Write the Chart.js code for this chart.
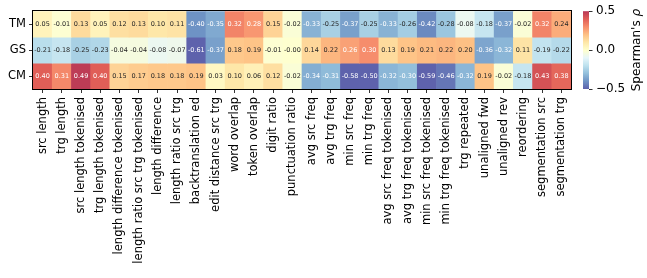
<!DOCTYPE html>
<html>
<head>
<meta charset="utf-8">
<script src="https://cdn.jsdelivr.net/npm/chart.js@4"></script>
<style>
html,body{margin:0;padding:0;background:#fff;}
#wrap{width:647px;height:278px;}
</style>
</head>
<body>
<div id="wrap"><canvas id="c" width="647" height="278"></canvas></div>
<script>
const features = ['src length','trg length','src length tokenised','trg length tokenised',
  'length difference tokenised','length ratio src trg tokenised','length difference',
  'length ratio src trg','backtranslation ed','edit distance src trg','word overlap',
  'token overlap','digit ratio','punctuation ratio','avg src freq','avg trg freq',
  'min src freq','min trg freq','avg src freq tokenised','avg trg freq tokenised',
  'min src freq tokenised','min trg freq tokenised','trg repeated','unaligned fwd',
  'unaligned rev','reordering','segmentation src','segmentation trg'];
const rows = ['TM','GS','CM'];
const tmValues = [0.05,-0.01,0.13,0.05,0.12,0.13,0.10,0.11,-0.40,-0.35,0.32,0.28,0.15,-0.02,
  -0.33,-0.25,-0.37,-0.25,-0.33,-0.26,-0.42,-0.28,-0.08,-0.18,-0.37,-0.02,0.32,0.24];
const gsValues = [-0.21,-0.18,-0.25,-0.23,-0.04,-0.04,-0.08,-0.07,-0.61,-0.37,0.18,0.19,-0.01,-0.004,
  0.14,0.22,0.26,0.30,0.13,0.19,0.21,0.22,0.20,-0.36,-0.32,0.11,-0.19,-0.22];
const cmValues = [0.40,0.31,0.49,0.40,0.15,0.17,0.18,0.18,0.19,0.03,0.10,0.06,0.12,-0.02,
  -0.34,-0.31,-0.58,-0.50,-0.32,-0.30,-0.59,-0.46,-0.32,0.19,-0.02,-0.18,0.43,0.38];
const colorbarTicks = [-0.5, 0, 0.5];
const vmin = -0.5, vmax = 0.5;
const seriesValues = [tmValues, gsValues, cmValues];

const cmapStops = ['#313695','#4575b4','#74add1','#abd9e9','#e0f3f8','#ffffbf','#fee090','#fdae61','#f46d43','#d73027','#a50026'];
const ALPHA = 0.78;
function hex2rgb(h){return [parseInt(h.slice(1,3),16),parseInt(h.slice(3,5),16),parseInt(h.slice(5,7),16)];}
const stopsRGB = cmapStops.map(hex2rgb);
function cmapRGB(t){
  t = Math.max(0, Math.min(1, t));
  const p = t*(stopsRGB.length-1);
  const i = Math.min(Math.floor(p), stopsRGB.length-2);
  const f = p - i;
  const a = stopsRGB[i], b = stopsRGB[i+1];
  return [0,1,2].map(k => a[k] + (b[k]-a[k])*f);
}
function faded(rgb){
  return 'rgb(' + rgb.map(c => Math.round(c*ALPHA + 255*(1-ALPHA))).join(',') + ')';
}
function colorFor(v){ return faded(cmapRGB((v - vmin)/(vmax - vmin))); }
function textColorFor(v){ return (v >= 0.25 || v <= -0.30) ? '#ffffff' : '#262626'; }

const datasets = rows.map((name, r) => ({
  label: name,
  data: features.map(() => [r, r+1]),
  backgroundColor: seriesValues[r].map(colorFor),
  borderWidth: 0,
  barPercentage: 1,
  categoryPercentage: 1,
  grouped: false
}));

const FONT = 'DejaVu Sans';

const annotatePlugin = {
  id: 'annotate',
  afterDatasetsDraw(chart){
    const ctx = chart.ctx;
    ctx.save();
    ctx.font = '6.5px "' + FONT + '"';
    ctx.textAlign = 'center';
    ctx.textBaseline = 'middle';
    chart.data.datasets.forEach((ds, r) => {
      const meta = chart.getDatasetMeta(r);
      meta.data.forEach((el, i) => {
        const v = seriesValues[r][i];
        ctx.fillStyle = textColorFor(v);
        ctx.fillText(v.toFixed(2), el.x, (el.y + el.base)/2 + 0.5);
      });
    });
    const a = chart.chartArea;
    ctx.strokeStyle = '#000';
    ctx.lineWidth = 1;
    ctx.strokeRect(Math.round(a.left)-0.5, Math.round(a.top)-0.5, Math.round(a.right-a.left)+1, Math.round(a.bottom-a.top)+1);
    // colorbar
    const s = chart.scales.cb;
    const x0 = a.right + 12, w = 6;
    const yTop = s.getPixelForValue(vmax), yBot = s.getPixelForValue(vmin);
    const g = ctx.createLinearGradient(0, yBot, 0, yTop);
    stopsRGB.forEach((c, i) => g.addColorStop(i/(stopsRGB.length-1), faded(c)));
    ctx.fillStyle = g;
    ctx.fillRect(x0, yTop, w, yBot - yTop);
    ctx.strokeStyle = '#000';
    ctx.lineWidth = 0.8;
    colorbarTicks.forEach(t => {
      const y = Math.round(s.getPixelForValue(t)) + 0.5;
      ctx.beginPath(); ctx.moveTo(x0 + w, y); ctx.lineTo(x0 + w + 3.5, y); ctx.stroke();
    });
    // colorbar label
    ctx.fillStyle = '#000';
    ctx.translate(a.right + 66, (yTop + yBot)/2);
    ctx.rotate(-Math.PI/2);
    ctx.textBaseline = 'middle';
    const t1 = "Spearman's ";
    ctx.font = '12px "' + FONT + '"';
    const w1 = ctx.measureText(t1).width;
    ctx.font = 'italic 12px "' + FONT + '"';
    const w2 = ctx.measureText('ρ').width;
    const start = -(w1 + w2)/2;
    ctx.textAlign = 'left';
    ctx.font = '12px "' + FONT + '"';
    ctx.fillText(t1, start, 0);
    ctx.font = 'italic 12px "' + FONT + '"';
    ctx.fillText('ρ', start + w1, 0);
    ctx.restore();
  }
};

new Chart(document.getElementById('c'), {
  type: 'bar',
  data: { labels: features, datasets },
  options: {
    responsive: false,
    animation: false,
    devicePixelRatio: 1,
    layout: { padding: { top: 11, left: 0, right: 0, bottom: 0 } },
    plugins: { legend: { display: false }, tooltip: { enabled: false } },
    scales: {
      x: {
        type: 'category',
        offset: true,
        grid: { offset: false, drawOnChartArea: false, tickLength: 4, color: '#000', tickWidth: 0.8 },
        border: { display: false },
        ticks: { autoSkip: false, minRotation: 90, maxRotation: 90, padding: 4, color: '#000',
          font: { family: FONT, size: 11.5 } },
        afterFit(s){ s.height = 278 - 89; }
      },
      y: {
        type: 'linear',
        position: 'left',
        min: 0, max: 3, reverse: true,
        grid: { drawOnChartArea: false, tickLength: 4, color: '#000', tickWidth: 0.8 },
        border: { display: false },
        afterBuildTicks(s){ s.ticks = [0.5, 1.5, 2.5].map(v => ({ value: v })); },
        ticks: { padding: 3, color: '#000', font: { family: FONT, size: 11.5 },
          callback: (v) => rows[Math.floor(v)] },
        afterFit(s){ s.width = 33; }
      },
      cb: {
        type: 'linear',
        position: 'right',
        min: vmin, max: vmax,
        grid: { drawOnChartArea: false, tickLength: 21, color: 'rgba(0,0,0,0)' },
        border: { display: false },
        afterBuildTicks(s){ s.ticks = colorbarTicks.map(v => ({ value: v })); },
        ticks: { padding: 4, color: '#000', font: { family: FONT, size: 12 },
          callback: (v) => (v < 0 ? '\u2212' : '') + Math.abs(v).toFixed(1) },
        afterFit(s){ s.width = 647 - 571; }
      }
    }
  },
  plugins: [annotatePlugin]
});
</script>
</body>
</html>
